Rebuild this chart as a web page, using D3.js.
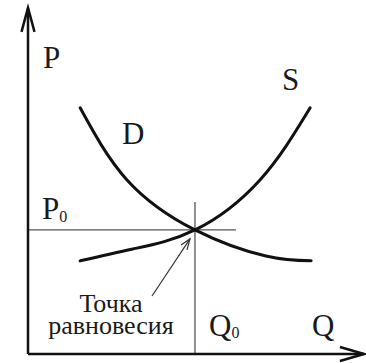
<!DOCTYPE html>
<html>
<head>
<meta charset="utf-8">
<script src="https://cdn.jsdelivr.net/npm/d3@7"></script>
<style>
  body { margin: 0; background: #fff; }
  #chart text, #chart tspan { font-family: "Liberation Serif", "Tinos", "Times New Roman", serif !important; }
</style>
</head>
<body>
<svg id="chart" width="366" height="363"></svg>
<script>
// demand curve D (quantity, price)
const demandQ = [15.8, 30.0, 50.6, 72.1, 85.8];
const demandP = [72.4, 51.2, 36.5, 28.8, 27.4];
// supply curve S
const supplyQ = [15.8, 31.8, 50.6, 70.3, 85.5];
const supplyP = [27.4, 30.9, 36.5, 51.2, 72.4];
// equilibrium point
const eqQ = 50.6, eqP = 36.5;

const svg = d3.select("#chart");

// scales: origin at the axes corner
const x = d3.scaleLinear().domain([0, 100]).range([28, 358]);
const y = d3.scaleLinear().domain([0, 100]).range([354, 14]);

const demand = demandQ.map((q, i) => ({q: q, p: demandP[i]}));
const supply = supplyQ.map((q, i) => ({q: q, p: supplyP[i]}));

// guide lines through equilibrium
svg.append("line")
  .attr("x1", x(0)).attr("x2", x(63))
  .attr("y1", y(eqP)).attr("y2", y(eqP))
  .attr("stroke", "#555").attr("stroke-width", 1.3);
svg.append("line")
  .attr("x1", x(eqQ)).attr("x2", x(eqQ))
  .attr("y1", y(44.7)).attr("y2", y(0))
  .attr("stroke", "#555").attr("stroke-width", 1.3);

// curves
const line = d3.line()
  .x(d => x(d.q))
  .y(d => y(d.p))
  .curve(d3.curveNatural);

svg.append("path").datum(demand)
  .attr("fill", "none").attr("stroke", "#111").attr("stroke-width", 3)
  .attr("stroke-linecap", "round")
  .attr("d", line);
svg.append("path").datum(supply)
  .attr("fill", "none").attr("stroke", "#111").attr("stroke-width", 3)
  .attr("stroke-linecap", "round")
  .attr("d", line);

// axes with open arrow heads
const axisColor = "#111";
svg.append("line")
  .attr("x1", x(0)).attr("y1", y(0))
  .attr("x2", x(0)).attr("y2", y(101.8))
  .attr("stroke", axisColor).attr("stroke-width", 2.5);
svg.append("line")
  .attr("x1", x(0)).attr("y1", y(0))
  .attr("x2", x(101.8)).attr("y2", y(0))
  .attr("stroke", axisColor).attr("stroke-width", 2.5);

svg.append("path")
  .attr("d", `M${x(0) - 6.5},${y(101.8) + 24} L${x(0)},${y(101.8)} L${x(0) + 6.5},${y(101.8) + 24}`)
  .attr("fill", "none").attr("stroke", axisColor).attr("stroke-width", 2.5);
svg.append("path")
  .attr("d", `M${x(101.8) - 24},${y(0) - 7} L${x(101.8)},${y(0)} L${x(101.8) - 24},${y(0) + 7}`)
  .attr("fill", "none").attr("stroke", axisColor).attr("stroke-width", 2.5);

// arrow pointing at equilibrium
svg.append("line")
  .attr("x1", 152).attr("y1", 296)
  .attr("x2", x(eqQ) - 5).attr("y2", y(eqP) + 9)
  .attr("stroke", "#333").attr("stroke-width", 1.2);
svg.append("path")
  .attr("d", `M${x(eqQ) - 14},${y(eqP) + 15} L${x(eqQ) - 5},${y(eqP) + 9} L${x(eqQ) - 8},${y(eqP) + 20}`)
  .attr("fill", "none").attr("stroke", "#333").attr("stroke-width", 1.2);

// labels
function label(xp, yp, size, txt) {
  return svg.append("text").attr("x", xp).attr("y", yp)
    .attr("font-size", size)
    .attr("fill", "#1a1a1a").text(txt);
}
label(43, 68, 31, "P");
label(122, 144, 31, "D");
label(282, 90, 31, "S");
label(312, 336, 31, "Q");

const p0 = label(42, 219, 31, "");
p0.append("tspan").text("P");
p0.append("tspan").attr("font-size", 16).attr("dy", 3).text("0");

const q0 = label(209, 336, 31, "");
q0.append("tspan").text("Q");
q0.append("tspan").attr("font-size", 16).attr("dy", 2).text("0");

label(111, 312, 26, "Точка").attr("text-anchor", "middle");
label(111, 334, 26, "равновесия").attr("text-anchor", "middle");
</script>
</body>
</html>
